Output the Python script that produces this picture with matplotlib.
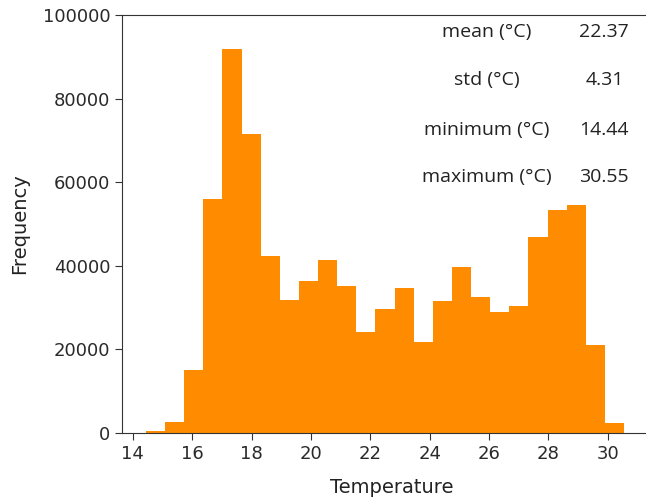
import numpy as np
import matplotlib
matplotlib.use("Agg")
import matplotlib.pyplot as plt

# Histogram data (25 bins from min to max)
t_min = 14.44
t_max = 30.55
n_bins = 25
counts = [400, 2600, 15100, 55900, 91900, 71500, 42300, 31900, 36300, 41300,
          35200, 24100, 29600, 34800, 21700, 31600, 39600, 32600, 28900, 30400,
          46900, 53300, 54500, 21100, 2300]

stat_labels = ["mean (°C)", "std (°C)", "minimum (°C)", "maximum (°C)"]
stat_values = ["22.37", "4.31", "14.44", "30.55"]

W, H = 646, 503
fig = plt.figure(figsize=(W / 100, H / 100), dpi=100)
ax = fig.add_axes([122 / W, (H - 433) / H, (648 - 122) / W, (433 - 15) / H])

edges = np.linspace(t_min, t_max, n_bins + 1)
centers = (edges[:-1] + edges[1:]) / 2
ax.hist(centers, bins=edges, weights=counts, color="#FF8C00")

ax.set_ylim(0, 100000)
ax.set_xticks(np.arange(14, 31, 2))
ax.tick_params(labelsize=13, length=5, color="#333333", labelcolor="#2a2a2a")
for s in ax.spines.values():
    s.set_color("#333333")
ax.spines["right"].set_visible(False)

ax.set_xlabel("Temperature", fontsize=14, color="#222222")
ax.set_ylabel("Frequency", fontsize=14, color="#222222")
ax.xaxis.set_label_coords((392 - 122) / 526, (433 - 478) / 418)
ax.yaxis.set_label_coords((29 - 122) / 526, 0.5)

row_y = [0.959, 0.844, 0.725, 0.612]
for lab, val, y in zip(stat_labels, stat_values, row_y):
    ax.text(0.694, y, lab, transform=ax.transAxes, ha="center", va="center",
            fontsize=14, family=["Open Sans", "DejaVu Sans"], color="#222222")
    ax.text(0.917, y, val, transform=ax.transAxes, ha="center", va="center",
            fontsize=14, family=["Open Sans", "DejaVu Sans"], color="#222222")

fig.savefig("out.png", dpi=100)
